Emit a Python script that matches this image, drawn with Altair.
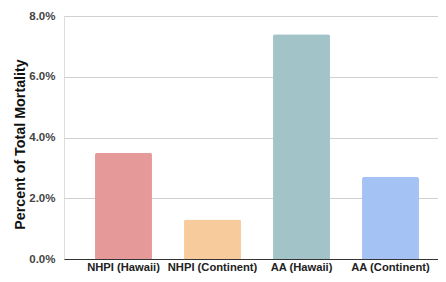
import altair as alt
import pandas as pd

categories = ["NHPI (Hawaii)", "NHPI (Continent)", "AA (Hawaii)", "AA (Continent)"]
values = [0.035, 0.013, 0.074, 0.027]
colors = ["#E69999", "#F8CB9C", "#A2C4C9", "#A4C2F4"]

df = pd.DataFrame({"cat": categories, "val": values})

FONT = "Liberation Sans"

chart = alt.Chart(df).mark_bar(cornerRadiusTopLeft=2, cornerRadiusTopRight=2).encode(
    x=alt.X("cat:N", sort=categories,
            scale=alt.Scale(paddingInner=0.36, paddingOuter=0.281, align=0.62),
            axis=alt.Axis(title=None, labelAngle=0, labelFont=FONT, labelFontSize=11.2,
                          labelFontWeight="bold", labelColor="#222222", labelPadding=2,
                          ticks=False, domain=True, domainColor="#333333", domainWidth=1,
                          grid=False)),
    y=alt.Y("val:Q", scale=alt.Scale(domain=[0, 0.08], nice=False),
            axis=alt.Axis(title="Percent of Total Mortality", format=".1%",
                          values=[0, 0.02, 0.04, 0.06, 0.08],
                          titleFont=FONT, titleFontSize=14.3, titleFontWeight="bold",
                          titleColor="#111111", titlePadding=1, titleY=128,
                          labelFont=FONT, labelFontSize=11.5, labelFontWeight="bold",
                          labelColor="#444444", labelPadding=9,
                          ticks=False, domain=False, gridColor="#D0D0D0", gridWidth=1)),
    color=alt.Color("cat:N", sort=categories,
                    scale=alt.Scale(domain=categories, range=colors), legend=None),
).properties(
    width=374, height=243,
    autosize=alt.AutoSizeParams(type="none"),
    padding={"left": 56, "top": 8, "right": 0, "bottom": 15},
).configure_view(stroke=None).configure(background="white")

chart.save("out.html", embed_options={"renderer": "svg", "actions": False})
